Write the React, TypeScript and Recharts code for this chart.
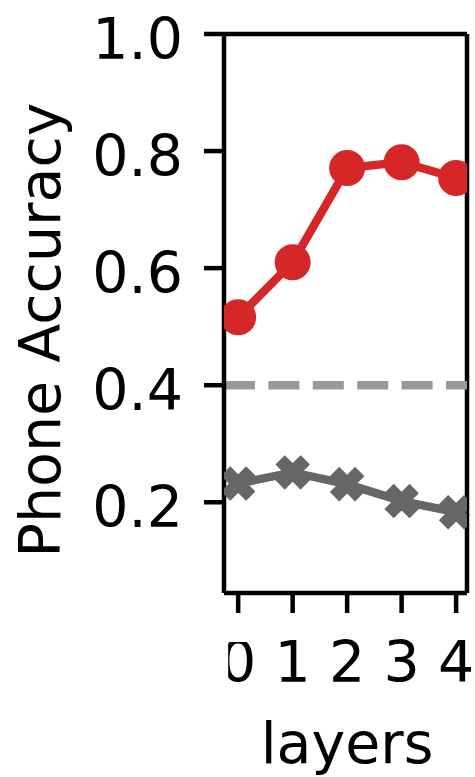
import React from "react";
import {
  LineChart,
  Line,
  XAxis,
  YAxis,
  ReferenceLine,
  Label,
} from "recharts";

const layers = [0, 1, 2, 3, 4];
const probeAccuracy = [0.516, 0.61, 0.771, 0.781, 0.754];
const baselineAccuracy = [0.232, 0.251, 0.231, 0.202, 0.183];
const chanceLevel = 0.4;
const yTicks = [0.2, 0.4, 0.6, 0.8, 1.0];

const xDomain: [number, number] = [-0.26, 4.2];
const yDomain: [number, number] = [0.045, 1.0];

const chartData = layers.map((layer, i) => ({
  layer,
  probe: probeAccuracy[i],
  baseline: baselineAccuracy[i],
}));

const FONT = "DejaVu Sans";
const RED = "#d62728";
const DARK_GRAY = "#666666";
const LIGHT_GRAY = "#999999";

// matplotlib "X" (filled) marker: a plus turned 45 degrees
const plusPts = [
  [-1, -3], [1, -3], [1, -1], [3, -1], [3, 1], [1, 1],
  [1, 3], [-1, 3], [-1, 1], [-3, 1], [-3, -1], [-1, -1],
];

const XMarker = (props: any) => {
  const { cx, cy, index } = props;
  if (cx == null || cy == null) return null;
  const k = 5.6;
  const d =
    plusPts
      .map(([px, py], i) => {
        const rx = ((px - py) / Math.SQRT2) * k;
        const ry = ((px + py) / Math.SQRT2) * k;
        return `${i === 0 ? "M" : "L"}${cx + rx},${cy + ry}`;
      })
      .join(" ") + " Z";
  return (
    <path
      key={`x-${index}`}
      d={d}
      fill={DARK_GRAY}
      stroke={DARK_GRAY}
      strokeWidth={2}
      strokeLinejoin="miter"
    />
  );
};

const XTick = (props: any) => {
  const { x, y, payload, index } = props;
  const clipId = `xtick-clip-${index}`;
  return (
    <g>
      {index === 0 && (
        <defs>
          <clipPath id={clipId}>
            <rect x={x - 10} y={y} width={100} height={80} />
          </clipPath>
        </defs>
      )}
      <text
        x={x}
        y={y}
        dy="0.71em"
        textAnchor="middle"
        fontFamily={FONT}
        fontSize={57}
        fill="#000"
        clipPath={index === 0 ? `url(#${clipId})` : undefined}
      >
        {payload.value}
      </text>
    </g>
  );
};

const YTick = (props: any) => {
  const { x, y, payload } = props;
  return (
    <text
      x={x}
      y={y}
      dy={25}
      textAnchor="end"
      fontFamily={FONT}
      fontSize={57}
      fill="#000"
    >
      {Number(payload.value).toFixed(1)}
    </text>
  );
};

const XLabel = (props: any) => {
  const { viewBox } = props;
  const x = viewBox.x + viewBox.width / 2 + 1.5;
  const y = viewBox.y + 170;
  return (
    <text x={x} y={y} textAnchor="middle" fontFamily={FONT} fontSize={57} fill="#000">
      layers
    </text>
  );
};

const YLabel = (props: any) => {
  const { viewBox } = props;
  const x = viewBox.x + 60;
  const y = viewBox.y + 296;
  return (
    <text
      x={x}
      y={y}
      textAnchor="middle"
      transform={`rotate(-90, ${x}, ${y})`}
      fontFamily={FONT}
      fontSize={57}
      fill="#000"
    >
      Phone Accuracy
    </text>
  );
};

const spine = { stroke: "#000", strokeWidth: 4.5 };

export default function App() {
  return (
    <div style={{ position: "absolute", left: 0, top: 0 }}>
      <LineChart
        width={475}
        height={777}
        data={chartData}
        margin={{ top: 34, right: 8, left: 0, bottom: 0 }}
      >
        <XAxis
          dataKey="layer"
          type="number"
          domain={xDomain}
          ticks={layers}
          allowDataOverflow
          height={184}
          tickSize={20}
          tickMargin={29}
          tickLine={spine}
          axisLine={spine}
          tick={<XTick />}
          label={<Label content={<XLabel />} />}
        />
        <YAxis
          type="number"
          domain={yDomain}
          ticks={yTicks}
          allowDataOverflow
          width={224}
          tickSize={20}
          tickMargin={21}
          tickLine={spine}
          axisLine={spine}
          tick={<YTick />}
          label={<Label content={<YLabel />} />}
        />
        {/* top and right spines */}
        <ReferenceLine y={yDomain[1]} stroke="#000" strokeWidth={4.5} ifOverflow="visible" />
        <ReferenceLine x={xDomain[1]} stroke="#000" strokeWidth={4.5} ifOverflow="visible" />
        <ReferenceLine
          y={chanceLevel}
          stroke={LIGHT_GRAY}
          strokeWidth={8.4}
          strokeDasharray="31 13.4"
        />
        <Line
          type="linear"
          dataKey="probe"
          stroke={RED}
          strokeWidth={8.4}
          dot={{ r: 17, fill: RED, stroke: RED, strokeWidth: 2 }}
          activeDot={false}
          isAnimationActive={false}
        />
        <Line
          type="linear"
          dataKey="baseline"
          stroke={DARK_GRAY}
          strokeWidth={8.4}
          dot={<XMarker />}
          activeDot={false}
          isAnimationActive={false}
        />
      </LineChart>
    </div>
  );
}
